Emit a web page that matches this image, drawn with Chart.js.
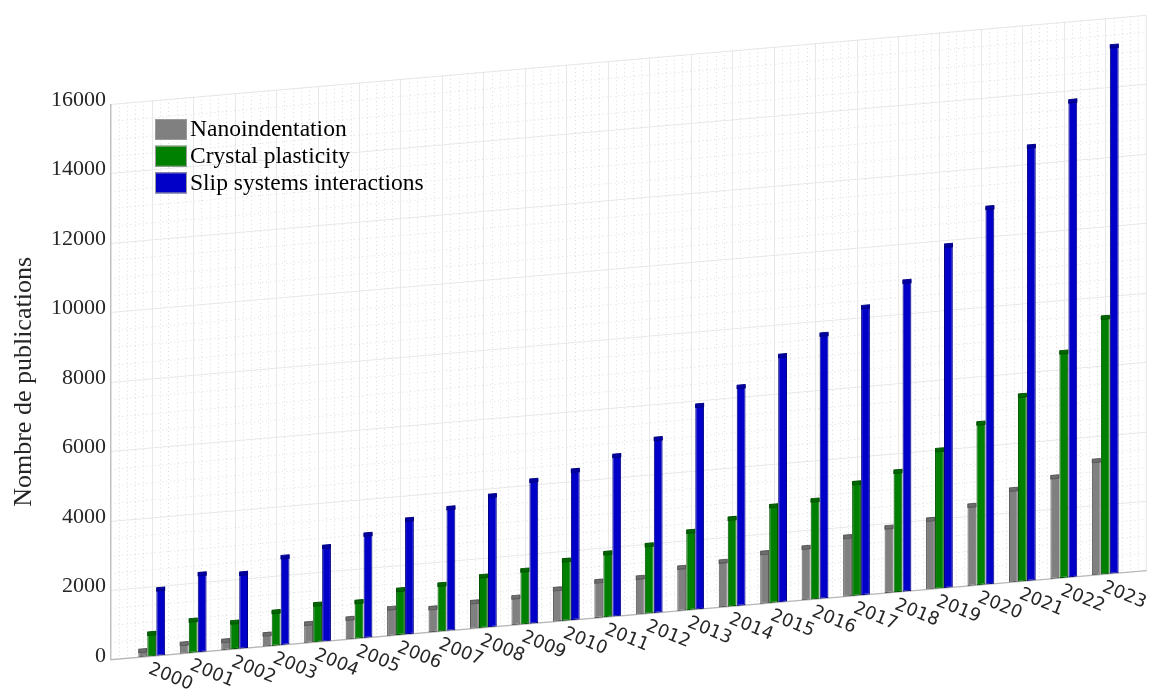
<!DOCTYPE html>
<html>
<head>
<meta charset="utf-8">
<script src="https://cdn.jsdelivr.net/npm/chart.js@4.4.0/dist/chart.umd.min.js"></script>
<style>
  html, body { margin: 0; padding: 0; background: #fff; }
</style>
</head>
<body>
<canvas id="grafico" width="1154" height="698"></canvas>
<script>
const annees = ["2000", "2001", "2002", "2003", "2004", "2005", "2006", "2007", "2008", "2009", "2010", "2011",
  "2012", "2013", "2014", "2015", "2016", "2017", "2018", "2019", "2020", "2021", "2022", "2023"];
const nanoindentation = [190, 290, 270, 355, 565, 605, 800, 700, 770, 810, 940, 1060,
  1070, 1255, 1325, 1470, 1520, 1725, 1900, 2015, 2320, 2680, 2935, 3300];
const plasticite = [665, 945, 785, 985, 1095, 1065, 1310, 1360, 1495, 1565, 1745, 1850,
  1980, 2270, 2535, 2795, 2860, 3250, 3480, 4000, 4665, 5360, 6505, 7400];
const glissement = [1915, 2250, 2165, 2540, 2730, 2980, 3310, 3535, 3785, 4125, 4305, 4630,
  5020, 5875, 6310, 7100, 7610, 8300, 8930, 9865, 10845, 12505, 13710, 15190];
const ticksY = [0, 2000, 4000, 6000, 8000, 10000, 12000, 14000, 16000];
const series = ["Nanoindentation", "Crystal plasticity", "Slip systems interactions"];

const couleurs = ["#808080", "#008000", "#0000c8"];
const chapeaux = ["#6e6e6e", "#006800", "#0000a4"];
const bords = ["#585858", "#005200", "#000082"];

// pente de la "perspective" (y descend de ~89px sur toute la largeur)
const SKEW = -0.086;
const X0 = 110;
function skew(ctx) { ctx.transform(1, SKEW, 0, 1, 0, -SKEW * X0); }

const perspective = {
  id: "perspective",
  beforeDatasetsDraw(chart) {
    const ctx = chart.ctx;
    const xs = chart.scales.x, ys = chart.scales.y;
    const cat = (xs.right - xs.left) / annees.length;
    const left = xs.left - cat / 2, right = xs.right + cat / 2;
    const yMax = ticksY[ticksY.length - 1];
    const top = ys.getPixelForValue(yMax), bottom = ys.getPixelForValue(0);

    ctx.save();
    skew(ctx);
    ctx.lineWidth = 1;

    // grille mineure pointillee
    ctx.strokeStyle = "#dcdcdc";
    ctx.setLineDash([1, 3]);
    ctx.beginPath();
    for (let v = 500; v < yMax; v += 500) {
      if (v % 2000 === 0) continue;
      const y = Math.round(ys.getPixelForValue(v)) + 0.5;
      ctx.moveTo(left, y); ctx.lineTo(right, y);
    }
    const nSub = (annees.length + 1) * 5;
    for (let k = 1; k < nSub; k++) {
      if (k % 5 === 0) continue;
      const x = Math.round(left + k * cat / 5) + 0.5;
      ctx.moveTo(x, top); ctx.lineTo(x, bottom);
    }
    ctx.stroke();

    // grille majeure
    ctx.setLineDash([]);
    ctx.strokeStyle = "#e8e8e8";
    ctx.beginPath();
    ticksY.forEach(v => {
      if (v === 0 || v === yMax) return;
      const y = Math.round(ys.getPixelForValue(v)) + 0.5;
      ctx.moveTo(left, y); ctx.lineTo(right, y);
    });
    annees.forEach((a, i) => {
      const x = Math.round(xs.getPixelForValue(i)) + 0.5;
      ctx.moveTo(x, top); ctx.lineTo(x, bottom);
    });
    ctx.stroke();

    // bords du mur
    ctx.strokeStyle = "#e6e6e6";
    ctx.beginPath();
    ctx.moveTo(left, top + 0.5); ctx.lineTo(right, top + 0.5);
    ctx.moveTo(right - 0.5, top); ctx.lineTo(right - 0.5, bottom);
    ctx.stroke();
    ctx.strokeStyle = "#b8b8b8";
    ctx.lineWidth = 1.3;
    ctx.beginPath();
    ctx.moveTo(left + 0.5, top); ctx.lineTo(left + 0.5, bottom);
    ctx.lineTo(right, bottom);
    ctx.stroke();
    ctx.lineWidth = 1;
  },
  afterDatasetsDraw(chart) {
    const ctx = chart.ctx;
    // petit chapeau sur chaque barre
    chart.data.datasets.forEach((ds, d) => {
      const meta = chart.getDatasetMeta(d);
      meta.data.forEach(bar => {
        const p = bar.getProps(["x", "y", "width"], true);
        const x0 = p.x - p.width / 2;
        ctx.fillStyle = chapeaux[d];
        ctx.fillRect(x0, p.y - 1.5, p.width, 3.5);
        ctx.strokeStyle = bords[d];
        ctx.strokeRect(x0 + 0.5, p.y - 1.5, p.width - 1, 3.5);
      });
    });
    ctx.restore();
  },
  afterDraw(chart) {
    const ctx = chart.ctx;
    const xs = chart.scales.x, ys = chart.scales.y;
    const base = ys.getPixelForValue(0);

    // annees inclinees sous l'axe
    ctx.save();
    ctx.fillStyle = "#262626";
    ctx.font = "18px 'DejaVu Sans'";
    ctx.textAlign = "left";
    ctx.textBaseline = "top";
    annees.forEach((a, i) => {
      const cx = xs.getPixelForValue(i);
      const by = base + SKEW * (cx - X0);
      ctx.save();
      ctx.translate(cx + 1, by + 4);
      ctx.rotate(22 * Math.PI / 180);
      ctx.fillText(a, 0, 0);
      ctx.restore();
    });

    // legende
    ctx.font = "23.5px 'Liberation Serif'";
    ctx.textBaseline = "middle";
    series.forEach((s, i) => {
      const y = 119 + i * 26.7;
      ctx.fillStyle = couleurs[i];
      ctx.fillRect(155, y, 32, 21);
      ctx.strokeStyle = "#9a9a9a";
      ctx.strokeRect(155.5, y + 0.5, 31, 20);
      ctx.fillStyle = "#000";
      ctx.fillText(s, 190, y + 11);
    });
    ctx.restore();
  }
};

const ctx = document.getElementById("grafico").getContext("2d");
new Chart(ctx, {
  type: "bar",
  data: {
    labels: annees,
    datasets: [nanoindentation, plasticite, glissement].map((vals, i) => ({
      label: series[i],
      data: vals,
      backgroundColor: couleurs[i],
      borderColor: bords[i],
      borderWidth: 1,
      borderSkipped: false,
      categoryPercentage: 0.65,
      barPercentage: 0.98,
      clip: false
    }))
  },
  options: {
    responsive: false,
    animation: false,
    layout: { padding: { left: 5, right: 28, top: 104, bottom: 26 } },
    plugins: {
      legend: { display: false },
      tooltip: { enabled: false }
    },
    scales: {
      x: { display: false, offset: true },
      y: {
        min: ticksY[0],
        max: ticksY[ticksY.length - 1],
        grid: { display: false, drawTicks: false },
        border: { display: false },
        ticks: {
          stepSize: ticksY[1] - ticksY[0],
          padding: 25,
          labelOffset: -4,
          color: "#262626",
          font: { family: "'Liberation Serif'", size: 22 },
          callback: v => String(v)
        },
        title: {
          display: true,
          text: "Nombre de publications",
          color: "#262626",
          font: { family: "'Liberation Serif'", size: 26 }
        },
        afterFit(scale) { scale.width = 126; }
      }
    }
  },
  plugins: [perspective]
});
</script>
</body>
</html>
